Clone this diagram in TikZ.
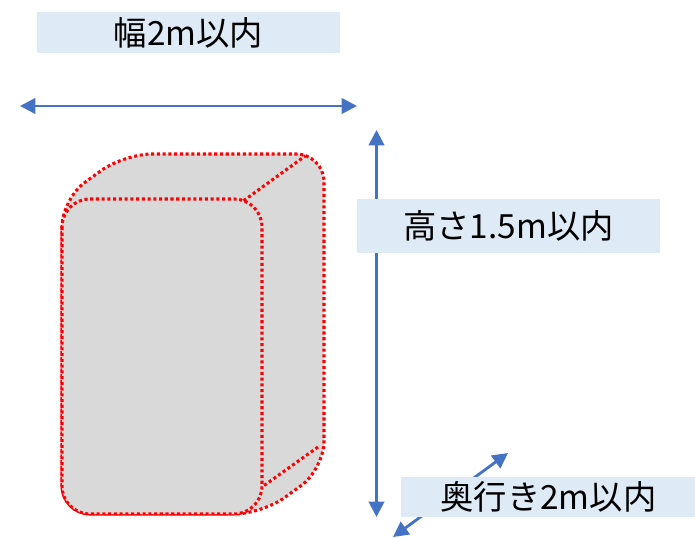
\documentclass[tikz,border=0pt]{standalone}
\usepackage{fontspec}
\setmainfont{Noto Sans CJK JP}
\usetikzlibrary{arrows.meta}
\definecolor{dimblue}{HTML}{4472C4}
\definecolor{labelfill}{HTML}{DEEBF7}
\definecolor{boxgray}{HTML}{D9D9D9}
\begin{document}
\begin{tikzpicture}[x=0.75pt,y=-0.75pt,
    dim/.style={draw=dimblue,line width=2.1pt,{Triangle[length=11.5pt,width=11.5pt]}-{Triangle[length=11.5pt,width=11.5pt]}},
    dimlabel/.style={fill=labelfill,inner sep=0pt,font=\fontsize{25}{29}\selectfont},
    edgeline/.style={draw=red,line width=2.3pt,dash pattern=on 2.3pt off 2pt},
    cubeface/.style={edgeline,fill=boxgray,rounded corners=21pt}]
  \useasboundingbox (0,0) rectangle (695,538);
  \coordinate (wl) at (20,106);
  \coordinate (wr) at (357,106);
  \coordinate (ht) at (376.5,130);
  \coordinate (hb) at (376.5,517);
  \coordinate (dn) at (393,537);
  \coordinate (df) at (508,453);
  \draw[dim] (wl) -- (wr);
  \draw[dim] (ht) -- (hb);
  \draw[dim] (dn) -- (df);
  \node[dimlabel,minimum width=227pt,minimum height=30.75pt] (width) at (188.5,32.5) {幅2m以内};
  \node[dimlabel,minimum width=227pt,minimum height=40.5pt] (height) at (508.5,226) {高さ1.5m以内};
  \node[dimlabel,minimum width=221pt,minimum height=30pt] (depth) at (548.5,497) {奥行き2m以内};
  \draw[cubeface] (62,514) -- (62,199) -- (124,154) -- (324,154) -- (324,469) -- (262,514) -- cycle;
  \draw[cubeface] (62,199) rectangle (262,514);
  \draw[edgeline] (243.6,200.7) -- (305.6,155.7);
  \draw[edgeline] (318,447) -- (262,487);
\end{tikzpicture}
\end{document}
